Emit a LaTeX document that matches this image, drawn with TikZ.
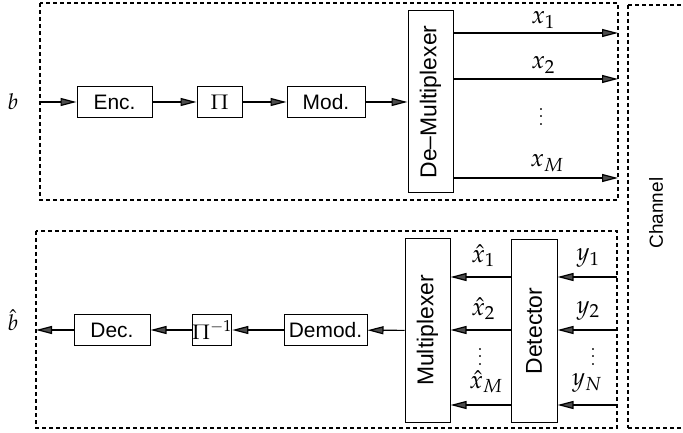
\documentclass[tikz,border=0pt]{standalone}
\usepackage{mathpazo}
\usepackage{fontspec}
\setsansfont{Liberation Sans}
\usetikzlibrary{arrows.meta}
% three widely spaced vertical dots
\newcommand{\colondots}{\vbox{\baselineskip=8pt\lineskiplimit=0pt\hbox{.}\hbox{.}\hbox{.}}}
\begin{document}
\begin{tikzpicture}[x=1bp,y=-1bp,
  blk/.style={draw,line width=1bp,inner sep=0pt,font=\sffamily\fontsize{21}{21}\selectfont},
  tall/.style={blk,font=\sffamily\fontsize{23}{23}\selectfont},
  frame/.style={draw,line width=1.2bp,dash pattern=on 4bp off 3bp},
  sig/.style={line width=1.2bp,-{Triangle[length=16bp,width=8bp,fill=black!70]}},
  lbl/.style={font=\fontsize{25}{25}\selectfont,inner sep=1pt},
  dots/.style={font=\fontsize{24}{24}\selectfont,inner sep=0pt}]
\useasboundingbox (0,0) rectangle (683,433);
% frames
\draw[frame] (40,3) rectangle (618,200);
\draw[frame] (36,231) rectangle (617,428);
\draw[frame] (628,5) -- (628,428) (628,5) -- (690,5) (628,428) -- (690,428);
\node[font=\sffamily\fontsize{19}{19}\selectfont,rotate=90] (ch) at (656,213) {Channel};
% transmitter
\node[lbl,font=\fontsize{22}{22}\selectfont] (b) at (13,102) {$b$};
\coordinate (bin) at (40,102);
\node[blk,minimum width=75bp,minimum height=31bp] (enc) at (114.5,102) {Enc.};
\node[blk,minimum width=45bp,minimum height=31bp] (pi) at (219.5,102) {$\Pi$};
\node[blk,minimum width=78bp,minimum height=31bp] (mod) at (326,102) {Mod.};
\node[tall,minimum width=45bp,minimum height=182bp] (dmx) at (430.5,102) {\rotatebox{90}{De--Multiplexer}};
\draw[sig] (bin) -- (enc);
\draw[sig] (enc) -- (pi);
\draw[sig] (pi) -- (mod);
\draw[sig] (mod) -- (dmx);
\coordinate (o1) at (618,33);
\coordinate (o2) at (618,79);
\coordinate (oM) at (618,178);
\draw[sig] (dmx.east |- o1) -- (o1);
\draw[sig] (dmx.east |- o2) -- (o2);
\draw[sig] (dmx.east |- oM) -- (oM);
\node[lbl] (x1) at (543,20) {$x_1$};
\node[lbl] (x2) at (543,65) {$x_2$};
\node[dots] (xd) at (541,117) {\colondots};
\node[lbl] (xM) at (547,163) {$x_M$};
% receiver
\node[lbl,font=\fontsize{22}{22}\selectfont] (bh) at (13,320) {$\hat b$};
\coordinate (bout) at (36,330);
\node[blk,minimum width=76bp,minimum height=30bp] (dec) at (112,330) {Dec.};
\node[blk,minimum width=38bp,minimum height=30bp] (pii) at (212,330) {$\Pi^{-1}$};
\node[blk,minimum width=83bp,minimum height=30bp] (dem) at (325.5,330) {Demod.};
\node[tall,minimum width=45bp,minimum height=183bp] (mux) at (427.5,330.5) {\rotatebox{90}{Multiplexer}};
\node[tall,minimum width=46bp,minimum height=182bp] (det) at (534,331) {\rotatebox{90}{Detector}};
\draw[sig] (mux) -- (dem);
\draw[sig] (dem) -- (pii);
\draw[sig] (pii) -- (dec);
\draw[sig] (dec) -- (bout);
\coordinate (i1) at (617,277);
\coordinate (i2) at (617,330);
\coordinate (iN) at (617,405);
\draw[sig] (i1) -- (det.east |- i1);
\draw[sig] (i2) -- (det.east |- i2);
\draw[sig] (iN) -- (det.east |- iN);
\draw[sig] (det.west |- i1) -- (mux.east |- i1);
\draw[sig] (det.west |- i2) -- (mux.east |- i2);
\draw[sig] (det.west |- iN) -- (mux.east |- iN);
\node[lbl] (xh1) at (483,256) {$\hat x_1$};
\node[lbl] (xh2) at (483,309) {$\hat x_2$};
\node[dots] (xhd) at (480,357) {\colondots};
\node[lbl] (xhM) at (486,382) {$\hat x_M$};
\node[lbl] (y1) at (588,258) {$y_1$};
\node[lbl] (y2) at (588,311) {$y_2$};
\node[dots] (yd) at (593,357) {\colondots};
\node[lbl] (yN) at (587,383) {$y_N$};
\end{tikzpicture}
\end{document}
